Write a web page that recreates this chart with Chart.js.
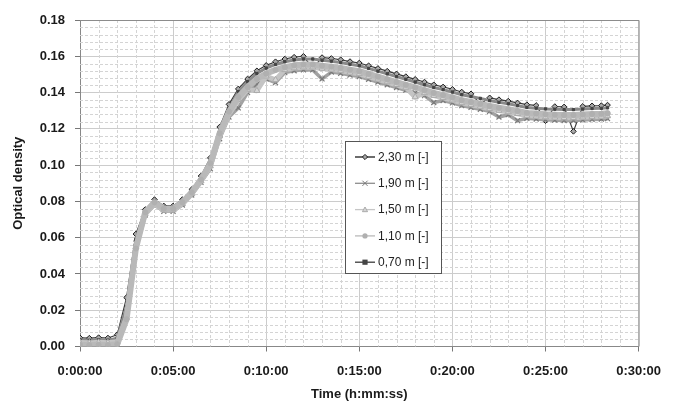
<!DOCTYPE html>
<html>
<head>
<meta charset="utf-8">
<title>Optical density</title>
<script src="https://cdn.jsdelivr.net/npm/chart.js@4.4.1/dist/chart.umd.min.js"></script>
<style>
  html, body { margin: 0; padding: 0; background: #fff; }
  #wrap { width: 673px; height: 402px; }
</style>
</head>
<body>
<div id="wrap"><canvas id="odChart" width="673" height="402"></canvas></div>
<script>
// --- DATA (time in seconds, optical density per sensor height) ---
const timeSec = [0, 30, 60, 90, 120, 150, 180, 210, 240, 270, 300, 330, 360, 390, 420, 450, 480, 510, 540, 570,
  600, 630, 660, 690, 720, 750, 780, 810, 840, 870, 900, 930, 960, 990, 1020, 1050, 1080, 1110, 1140, 1170,
  1200, 1230, 1260, 1290, 1320, 1350, 1380, 1410, 1440, 1470, 1500, 1530, 1560, 1590, 1620, 1650, 1680, 1700];

const od230 = [0.0048, 0.0046, 0.0049, 0.0047, 0.0065, 0.027, 0.062, 0.0755, 0.081, 0.0775,
  0.0775, 0.081, 0.0865, 0.094, 0.104, 0.121, 0.1335, 0.142, 0.1475, 0.152,
  0.155, 0.157, 0.1585, 0.1595, 0.160, 0.1535, 0.1593, 0.1588, 0.1581, 0.1571,
  0.1563, 0.1548, 0.1533, 0.1518, 0.1503, 0.1488, 0.1473, 0.1458, 0.1443, 0.1431,
  0.1418, 0.1403, 0.1393, 0.1338, 0.1371, 0.1361, 0.1353, 0.1343, 0.1333, 0.1329,
  0.1245, 0.1323, 0.1321, 0.1186, 0.1324, 0.1327, 0.1328, 0.1331];

const od190 = [0.0032, 0.0030, 0.0033, 0.0031, 0.0035, 0.019, 0.057, 0.0725, 0.078, 0.0745,
  0.0745, 0.078, 0.0835, 0.0905, 0.098, 0.1145, 0.1265, 0.1315, 0.140, 0.1445,
  0.1475, 0.1455, 0.151, 0.152, 0.1525, 0.1525, 0.1475, 0.1513, 0.1506, 0.1496,
  0.1488, 0.1473, 0.1458, 0.1443, 0.1428, 0.1413, 0.1398, 0.1383, 0.1345, 0.1356,
  0.1343, 0.1328, 0.1318, 0.1308, 0.1296, 0.1265, 0.1278, 0.1245, 0.1258, 0.1254,
  0.125, 0.1248, 0.1246, 0.1246, 0.1249, 0.1252, 0.1253, 0.1256];

const od150 = [0.0022, 0.0020, 0.0023, 0.0021, 0.0026, 0.016, 0.055, 0.0732, 0.0787, 0.0752,
  0.0752, 0.0787, 0.0842, 0.0912, 0.0995, 0.116, 0.128, 0.136, 0.1415, 0.141,
  0.149, 0.147, 0.1525, 0.1535, 0.154, 0.154, 0.1533, 0.1528, 0.1521, 0.1511,
  0.1503, 0.1488, 0.1473, 0.1458, 0.1443, 0.1428, 0.1375, 0.1398, 0.1383, 0.1371,
  0.1358, 0.1343, 0.1333, 0.1323, 0.1311, 0.1301, 0.1293, 0.1283, 0.1273, 0.1269,
  0.1265, 0.1263, 0.1261, 0.1261, 0.1264, 0.1267, 0.1268, 0.1271];

const od110 = [0.0010, 0.0008, 0.0009, 0.0008, 0.0013, 0.015, 0.054, 0.074, 0.0795, 0.076,
  0.076, 0.0795, 0.085, 0.092, 0.101, 0.1175, 0.1295, 0.1375, 0.143, 0.1475,
  0.1505, 0.1525, 0.154, 0.155, 0.1555, 0.1555, 0.1548, 0.1543, 0.1536, 0.1526,
  0.1518, 0.1503, 0.1488, 0.1473, 0.1458, 0.1443, 0.1428, 0.1413, 0.1398, 0.1386,
  0.1373, 0.1358, 0.1348, 0.1338, 0.1326, 0.1316, 0.1308, 0.1298, 0.1288, 0.1284,
  0.128, 0.1278, 0.1276, 0.1276, 0.1279, 0.1282, 0.1283, 0.1286];

const od070 = [0.0036, 0.0034, 0.0037, 0.0035, 0.0045, 0.022, 0.059, 0.0748, 0.0803, 0.0768,
  0.0768, 0.0803, 0.0858, 0.0928, 0.1025, 0.119, 0.131, 0.1405, 0.146, 0.1505,
  0.1535, 0.1555, 0.157, 0.158, 0.1585, 0.1585, 0.1578, 0.1573, 0.1566, 0.1556,
  0.1548, 0.1533, 0.1518, 0.1503, 0.1488, 0.1473, 0.1458, 0.1443, 0.1428, 0.1416,
  0.1403, 0.1388, 0.1378, 0.1368, 0.1356, 0.1346, 0.1338, 0.1328, 0.1318, 0.1314,
  0.131, 0.1308, 0.1306, 0.1306, 0.1309, 0.1312, 0.1313, 0.1316];

const seriesLabels = ['2,30 m [-]', '1,90 m [-]', '1,50 m [-]', '1,10 m [-]', '0,70 m [-]'];

const FONT = "'Liberation Sans', Arial, sans-serif";

function toPoints(vals) {
    return timeSec.map((t, i) => ({ x: t, y: vals[i] }));
}

function fmtTime(sec) {
    const h = Math.floor(sec / 3600);
    const m = Math.floor((sec % 3600) / 60);
    const s = Math.round(sec % 60);
    return h + ':' + String(m).padStart(2, '0') + ':' + String(s).padStart(2, '0');
}

// --- minor dashed grid + frame ---
const minorGrid = {
    id: 'minorGrid',
    beforeDatasetsDraw(chart) {
        const { ctx, chartArea: a, scales } = chart;
        ctx.save();
        ctx.strokeStyle = '#d4d4d4';
        ctx.lineWidth = 1;
        ctx.setLineDash([3, 2]);
        ctx.beginPath();
        for (let k = 1; k < 30; k++) {
            if (k % 5 === 0) continue;
            const x = Math.round(scales.x.getPixelForValue(k * 60)) + 0.5;
            ctx.moveTo(x, a.top); ctx.lineTo(x, a.bottom);
        }
        for (let k = 1; k < 45; k++) {
            if (k % 5 === 0) continue;
            const y = Math.round(scales.y.getPixelForValue(k * 0.004)) + 0.5;
            ctx.moveTo(a.left, y); ctx.lineTo(a.right, y);
        }
        ctx.stroke();
        ctx.restore();
    },
    afterDatasetsDraw(chart) {
        const { ctx, chartArea: a } = chart;
        ctx.save();
        ctx.strokeStyle = '#8c8c8c';
        ctx.lineWidth = 1;
        ctx.beginPath();
        ctx.moveTo(a.left, a.top + 0.5); ctx.lineTo(a.right + 0.5, a.top + 0.5);
        ctx.lineTo(a.right + 0.5, a.bottom);
        ctx.stroke();
        ctx.restore();
    }
};

function drawMarker(ctx, style, x, y, r, fill, stroke) {
    ctx.beginPath();
    if (style === 'rectRot') {
        ctx.moveTo(x, y - r); ctx.lineTo(x + r, y); ctx.lineTo(x, y + r); ctx.lineTo(x - r, y); ctx.closePath();
        ctx.fillStyle = fill; ctx.fill(); ctx.strokeStyle = stroke; ctx.stroke();
    } else if (style === 'crossRot') {
        ctx.moveTo(x - r, y - r); ctx.lineTo(x + r, y + r);
        ctx.moveTo(x + r, y - r); ctx.lineTo(x - r, y + r);
        ctx.strokeStyle = stroke; ctx.stroke();
    } else if (style === 'triangle') {
        ctx.moveTo(x, y - r); ctx.lineTo(x + r, y + r * 0.8); ctx.lineTo(x - r, y + r * 0.8); ctx.closePath();
        ctx.fillStyle = fill; ctx.fill(); ctx.strokeStyle = stroke; ctx.stroke();
    } else if (style === 'circle') {
        ctx.arc(x, y, r, 0, Math.PI * 2);
        ctx.fillStyle = fill; ctx.fill();
    } else {
        ctx.rect(x - r, y - r, r * 2, r * 2);
        ctx.fillStyle = fill; ctx.fill();
    }
}

// --- legend box inside the plot ---
const boxLegend = {
    id: 'boxLegend',
    afterDraw(chart) {
        const ctx = chart.ctx;
        const bx = 345, by = 141, bw = 96, bh = 132;
        ctx.save();
        ctx.fillStyle = '#fff';
        ctx.fillRect(bx, by, bw, bh);
        ctx.strokeStyle = '#555';
        ctx.lineWidth = 1;
        ctx.strokeRect(bx + 0.5, by + 0.5, bw, bh);
        ctx.font = '12px ' + FONT;
        ctx.textBaseline = 'middle';
        chart.data.datasets.forEach((ds, i) => {
            const y = by + 16 + i * 26.3;
            ctx.strokeStyle = ds.legendLine;
            ctx.lineWidth = 1.3;
            ctx.beginPath();
            ctx.moveTo(bx + 10, y); ctx.lineTo(bx + 30, y);
            ctx.stroke();
            ctx.lineWidth = 1;
            drawMarker(ctx, ds.pointStyle, bx + 20, y, 2.6, ds.pointBackgroundColor, ds.pointBorderColor);
            ctx.fillStyle = '#222';
            ctx.fillText(ds.label, bx + 33, y + 0.5);
        });
        ctx.restore();
    }
};

const tickFont = { family: FONT, size: 13, weight: 'bold' };

new Chart(document.getElementById('odChart'), {
    type: 'line',
    data: {
        datasets: [
            { label: seriesLabels[0], data: toPoints(od230), order: 5,
              borderColor: '#3a3a3a', legendLine: '#1c1c1c', borderWidth: 1.2,
              pointStyle: 'rectRot', pointRadius: 2.8, pointBorderWidth: 1,
              pointBorderColor: '#1c1c1c', pointBackgroundColor: '#a8a8a8' },
            { label: seriesLabels[1], data: toPoints(od190), order: 4,
              borderColor: '#a2a2a2', legendLine: '#8e8e8e', borderWidth: 3.5,
              pointStyle: 'crossRot', pointRadius: 3.5, pointBorderWidth: 1.2,
              pointBorderColor: '#7a7a7a', pointBackgroundColor: '#7a7a7a' },
            { label: seriesLabels[2], data: toPoints(od150), order: 2,
              borderColor: '#c4c4c4', legendLine: '#c6c6c6', borderWidth: 5,
              pointStyle: 'triangle', pointRadius: 3.5, pointBorderWidth: 1,
              pointBorderColor: '#ababab', pointBackgroundColor: '#d6d6d6' },
            { label: seriesLabels[3], data: toPoints(od110), order: 1,
              borderColor: '#b9b9b9', legendLine: '#bababa', borderWidth: 6,
              pointStyle: 'circle', pointRadius: 2.5, pointBorderWidth: 1,
              pointBorderColor: '#b0b0b0', pointBackgroundColor: '#b0b0b0' },
            { label: seriesLabels[4], data: toPoints(od070), order: 3,
              borderColor: '#8a8a8a', legendLine: '#3c3c3c', borderWidth: 3,
              pointStyle: 'rect', pointRadius: 1.6, pointBorderWidth: 1,
              pointBorderColor: '#444', pointBackgroundColor: '#444' }
        ]
    },
    options: {
        responsive: false,
        animation: false,
        layout: { padding: { left: 0, top: 20, right: 25, bottom: 0 } },
        plugins: { legend: { display: false }, tooltip: { enabled: false } },
        elements: { line: { tension: 0, borderJoinStyle: 'round', borderCapStyle: 'round' } },
        scales: {
            x: {
                type: 'linear', min: 0, max: 1800,
                ticks: { stepSize: 300, autoSkip: false, maxRotation: 0, color: '#1a1a1a',
                         font: tickFont, padding: 12, callback: v => fmtTime(v) },
                grid: { color: '#cccccc', tickColor: '#777', tickLength: 5 },
                border: { color: '#888' },
                title: { display: true, text: 'Time (h:mm:ss)', color: '#1a1a1a',
                         font: tickFont, padding: { top: 4, bottom: 0 } },
                afterFit(scale) { scale.height = 55.5; }
            },
            y: {
                min: 0, max: 0.18,
                ticks: { stepSize: 0.02, color: '#1a1a1a', font: tickFont, padding: 10,
                         callback: v => v.toFixed(2) },
                grid: { color: '#cccccc', tickColor: '#777', tickLength: 5 },
                border: { color: '#888' },
                title: { display: true, text: 'Optical density', color: '#1a1a1a',
                         font: tickFont, padding: { top: 11, bottom: 0 } },
                afterFit(scale) { scale.width = 80; }
            }
        }
    },
    plugins: [minorGrid, boxLegend]
});
</script>
</body>
</html>
